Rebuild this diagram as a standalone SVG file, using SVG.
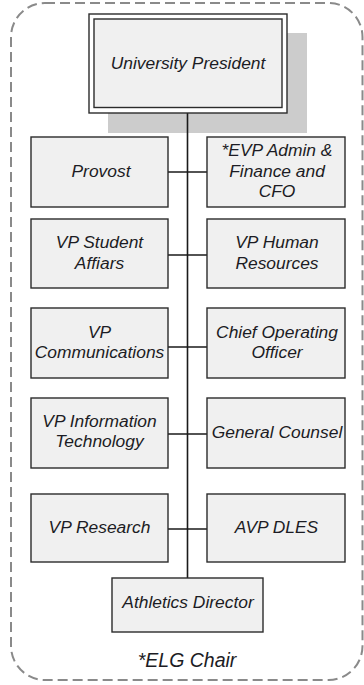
<svg xmlns="http://www.w3.org/2000/svg" width="364" height="685" viewBox="0 0 364 685">
  <style>
    .box { fill: #f0f0f0; stroke: #2b2b2b; stroke-width: 1.4; }
    .lbl { font-family: "Liberation Sans", Arial, sans-serif; font-style: italic; font-size: 17.4px; fill: #1c1c24; text-anchor: middle; }
    .conn { stroke: #1a1a1a; stroke-width: 1.6; fill: none; }
  </style>

  <rect width="364" height="685" fill="#ffffff"/>

  <!-- group boundary -->
  <rect id="elg-boundary" x="11" y="3" width="351.5" height="677" rx="34" ry="34" fill="none" stroke="#8a8a8a" stroke-width="2" stroke-dasharray="10 5"/>

  <!-- president drop shadow -->
  <rect x="108" y="33" width="199" height="100" fill="#cccccc"/>

  <!-- connectors -->
  <g id="connectors">
    <line class="conn" x1="187.5" y1="113" x2="187.5" y2="578"/>
    <line class="conn" x1="168" y1="172" x2="207" y2="172"/>
    <line class="conn" x1="168" y1="255" x2="207" y2="255"/>
    <line class="conn" x1="168" y1="347" x2="207" y2="347"/>
    <line class="conn" x1="168" y1="434" x2="207" y2="434"/>
    <line class="conn" x1="168" y1="529" x2="207" y2="529"/>
  </g>

  <g id="president">
    <rect x="89" y="14" width="198" height="99" fill="#ffffff" stroke="#2b2b2b" stroke-width="1.4"/>
    <rect x="94" y="19" width="188" height="88.5" fill="#f0f0f0" stroke="#2b2b2b" stroke-width="1.4"/>
    <text class="lbl" x="188" y="69">University President</text>
  </g>

  <g id="provost">
    <rect class="box" x="31" y="137" width="137" height="70"/>
    <text class="lbl" x="101" y="177">Provost</text>
  </g>

  <g id="evp-admin-finance">
    <rect class="box" x="207" y="137" width="138" height="70"/>
    <text class="lbl" x="277" y="156">*EVP Admin &amp;</text>
    <text class="lbl" x="277" y="177">Finance and</text>
    <text class="lbl" x="277" y="197">CFO</text>
  </g>

  <g id="vp-student-affairs">
    <rect class="box" x="31" y="219" width="137" height="69"/>
    <text class="lbl" x="99.5" y="248">VP Student</text>
    <text class="lbl" x="99.5" y="269">Affiars</text>
  </g>

  <g id="vp-human-resources">
    <rect class="box" x="207" y="219" width="138" height="69"/>
    <text class="lbl" x="277" y="248">VP Human</text>
    <text class="lbl" x="277" y="269">Resources</text>
  </g>

  <g id="vp-communications">
    <rect class="box" x="31" y="308" width="137" height="70"/>
    <text class="lbl" x="99.5" y="338">VP</text>
    <text class="lbl" x="99.5" y="358">Communications</text>
  </g>

  <g id="chief-operating-officer">
    <rect class="box" x="207" y="308" width="138" height="70"/>
    <text class="lbl" x="277" y="338">Chief Operating</text>
    <text class="lbl" x="277" y="358">Officer</text>
  </g>

  <g id="vp-information-technology">
    <rect class="box" x="31" y="398" width="137" height="70"/>
    <text class="lbl" x="99.5" y="427">VP Information</text>
    <text class="lbl" x="99.5" y="447">Technology</text>
  </g>

  <g id="general-counsel">
    <rect class="box" x="207" y="398" width="138" height="70"/>
    <text class="lbl" x="277" y="438">General Counsel</text>
  </g>

  <g id="vp-research">
    <rect class="box" x="31" y="494" width="137" height="68"/>
    <text class="lbl" x="99.5" y="533">VP Research</text>
  </g>

  <g id="avp-dles">
    <rect class="box" x="207" y="494" width="138" height="68"/>
    <text class="lbl" x="276.5" y="533">AVP DLES</text>
  </g>

  <g id="athletics-director">
    <rect class="box" x="112" y="578" width="151" height="54"/>
    <text class="lbl" x="188" y="608">Athletics Director</text>
  </g>

  <text id="elg-note" class="lbl" x="187" y="667" style="font-size:19.5px">*ELG Chair</text>
</svg>
